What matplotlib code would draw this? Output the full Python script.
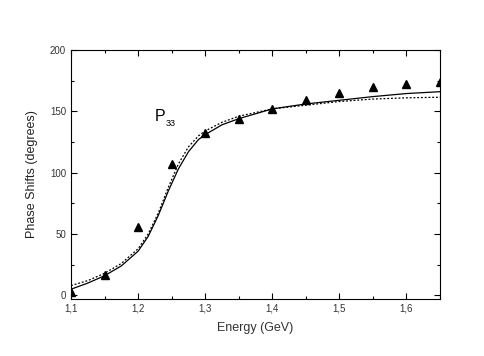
import matplotlib.pyplot as plt
from matplotlib.ticker import MultipleLocator, FuncFormatter

plt.rcParams['font.family'] = ['Liberation Sans', 'DejaVu Sans']

# points experimentaux (triangles)
e_data = [1.10, 1.15, 1.20, 1.25, 1.30, 1.35, 1.40, 1.45, 1.50, 1.55, 1.60, 1.65]
phase_data = [3, 17, 56, 107, 132, 144, 152, 159, 165, 170, 172.5, 174]

# courbe pleine
e_fit = [1.10, 1.125, 1.15, 1.175, 1.20, 1.215, 1.23, 1.245, 1.26, 1.275, 1.29, 1.30,
         1.325, 1.35, 1.375, 1.40, 1.45, 1.50, 1.55, 1.60, 1.65]
phase_solid = [5, 10, 16, 24, 36, 48, 65, 85, 103, 117, 127, 131,
               139, 144, 148, 152, 156, 159, 162, 164.5, 166]
# courbe pointillee
phase_dotted = [8, 12, 18, 26, 38, 50, 67, 88, 107, 121, 130, 134,
                141, 146, 149, 152, 155, 158, 160, 161, 161.5]

fig = plt.figure(figsize=(4.85, 3.56), dpi=100)
ax = fig.add_axes([0.1464, 0.160, 0.7608, 0.6996])

ax.plot(e_fit, phase_solid, color="black", lw=0.9)
ax.plot(e_fit, phase_dotted, color="black", lw=0.9, ls=(0, (1.5, 1.5)))
ax.plot(e_data, phase_data, "^", color="black", ms=5.5)

# P33 : lettre + indice en petit
ax.text(1.225, 142, "P", fontsize=11.5)
ax.text(1.2405, 138, "33", fontsize=6.5)

ax.set_xlim(1.1, 1.65)
ax.set_ylim(-3, 200)
ax.xaxis.set_major_locator(MultipleLocator(0.1))
ax.xaxis.set_minor_locator(MultipleLocator(0.05))
ax.yaxis.set_major_locator(MultipleLocator(50))
ax.yaxis.set_minor_locator(MultipleLocator(25))
ax.xaxis.set_major_formatter(FuncFormatter(lambda v, p: f"{v:.1f}".replace(".", ",")))

ax.tick_params(which="both", direction="in", top=True, right=True,
               labelsize=7, labelcolor="#333333", width=0.8)
ax.tick_params(which="major", length=4)
ax.tick_params(which="minor", length=2)

ax.set_xlabel("Energy (GeV)", fontsize=9, color="#333333", labelpad=6)
ax.set_ylabel("Phase Shifts (degrees)", fontsize=9, color="#222222", labelpad=9)

plt.savefig("out.png", dpi=100)
